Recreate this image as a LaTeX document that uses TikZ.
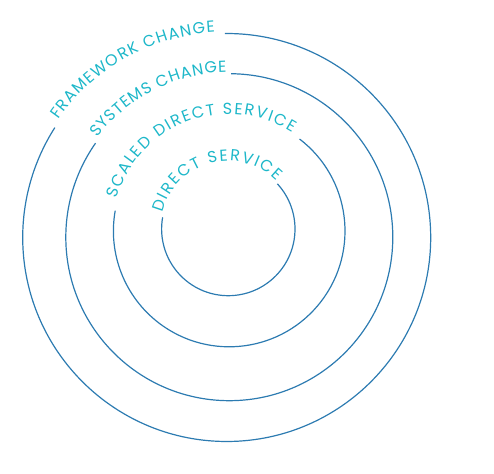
\documentclass[tikz,border=0pt]{standalone}
\usepackage{fontspec}
\setmainfont{Poppins}
\usetikzlibrary{decorations.text}
\definecolor{ringblue}{HTML}{2C7BB1}
\definecolor{labelcyan}{HTML}{1DB7C9}
\tikzset{
  ring/.style={draw=ringblue,line width=1.2pt},
  ringlabel/.style={decorate,decoration={text along path,text align={fit to path},
    text={|\fontsize{16}{16}\selectfont\color{labelcyan}|#1}}}
}
\begin{document}
\begin{tikzpicture}[x=1pt,y=1pt]
\useasboundingbox (0,0) rectangle (494,473);
\coordinate (inner) at (228.3,244);
\coordinate (scaled) at (229.2,242);
\coordinate (systems) at (229.3,235.8);
\coordinate (framework) at (226.7,235.5);
% rings, open where the labels start
\draw[ring] ([shift={(42.6:66.7)}]inner) arc[start angle=42.6,end angle=-190.1,radius=66.7];
\draw[ring] ([shift={(52.6:115.8)}]scaled) arc[start angle=52.6,end angle=-190.1,radius=115.8];
\draw[ring] ([shift={(89.4:163.5)}]systems) arc[start angle=89.4,end angle=-215.1,radius=163.5];
\draw[ring] ([shift={(90.5:204)}]framework) arc[start angle=90.5,end angle=-212.6,radius=204];
% labels
\path[ringlabel={DIRECT SERVICE}] ([shift={(166:68)}]inner) arc[start angle=166,end angle=45,radius=68];
\path[ringlabel={SCALED DIRECT SERVICE}] ([shift={(164:117)}]scaled) arc[start angle=164,end angle=57.5,radius=117];
\path[ringlabel={SYSTEMS CHANGE}] ([shift={(143:165)}]systems) arc[start angle=143,end angle=91,radius=165];
\path[ringlabel={FRAMEWORK CHANGE}] ([shift={(145:205.5)}]framework) arc[start angle=145,end angle=93.3,radius=205.5];
\end{tikzpicture}
\end{document}
